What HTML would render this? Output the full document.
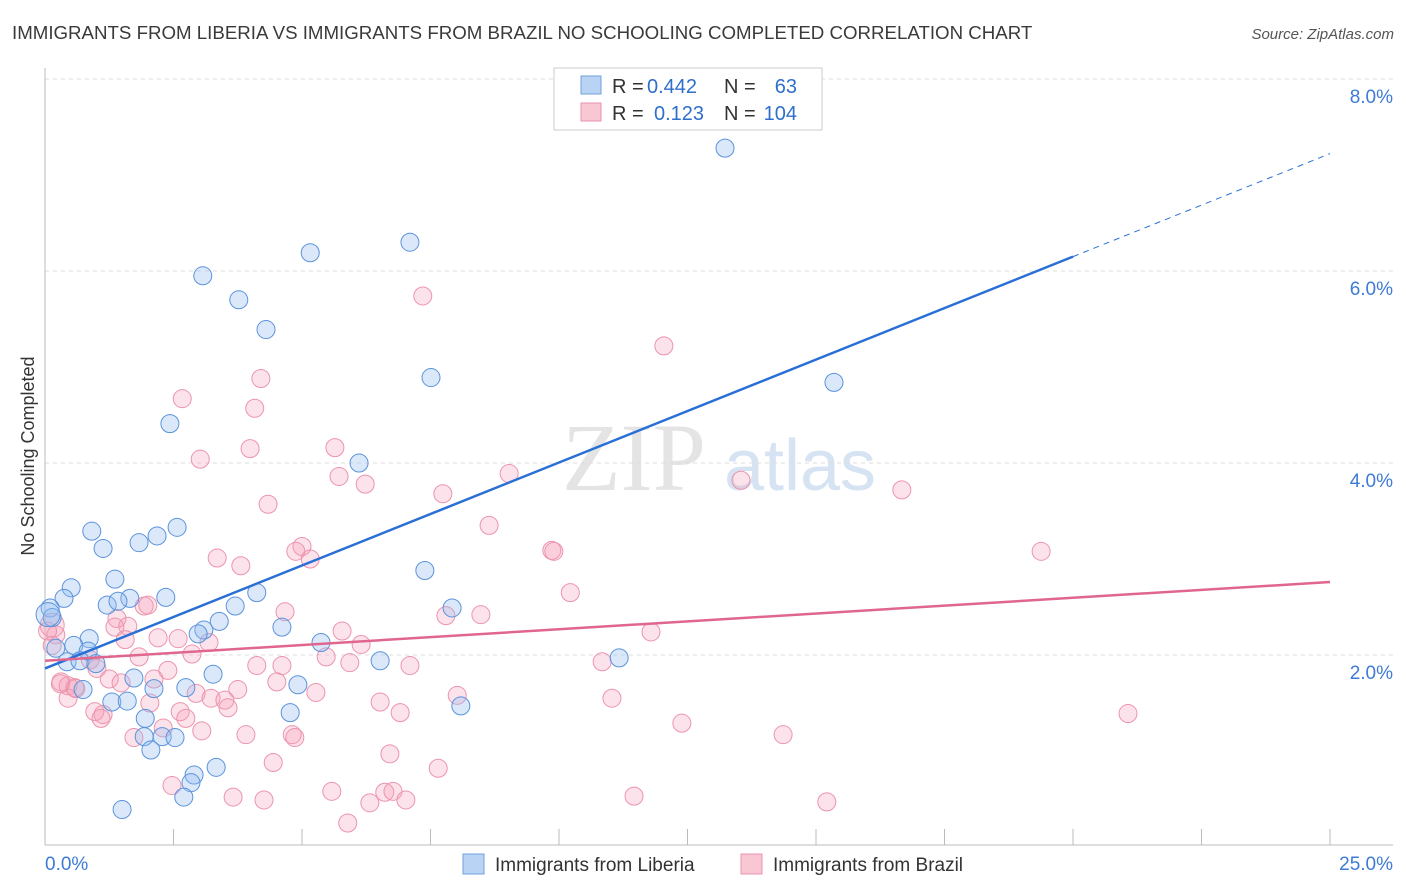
<!DOCTYPE html>
<html><head><meta charset="utf-8"><style>
body{margin:0;background:#fff;font-family:"Liberation Sans",sans-serif;}
</style></head><body>
<svg id="c" width="1406" height="892" style="position:absolute;left:0;top:0">
<text x="12" y="39" font-size="18.7" fill="#3a3a3a">IMMIGRANTS FROM LIBERIA VS IMMIGRANTS FROM BRAZIL NO SCHOOLING COMPLETED CORRELATION CHART</text>
<text x="1394" y="39" font-size="15" font-style="italic" fill="#555" text-anchor="end">Source: ZipAtlas.com</text>
<text x="634" y="490" font-size="96" fill="#e4e4e4" font-family="Liberation Serif" text-anchor="middle">ZIP</text>
<text x="800" y="490" font-size="72" fill="#d6e3f3" text-anchor="middle">atlas</text>
<text transform="translate(34,456) rotate(-90)" font-size="18" fill="#333" text-anchor="middle">No Schooling Completed</text>
<g id="grid"></g><g id="pts"></g><g id="lines"></g>
<g font-size="20">
<rect x="554" y="68" width="268" height="62" fill="#fff" stroke="#ccc"/>
<rect x="581" y="76" width="20" height="18" fill="#b8d3f3" stroke="#6fa0de"/>
<rect x="581" y="103" width="20" height="18" fill="#f9c6d4" stroke="#eb93ab"/>
<text x="612" y="93" fill="#333">R =</text><text x="647" y="93" fill="#2f6fcc">0.442</text>
<text x="724" y="93" fill="#333">N =</text><text x="797" y="93" fill="#2f6fcc" text-anchor="end">63</text>
<text x="612" y="120" fill="#333">R =</text><text x="654" y="120" fill="#2f6fcc">0.123</text>
<text x="724" y="120" fill="#333">N =</text><text x="797" y="120" fill="#2f6fcc" text-anchor="end">104</text>
</g>
<g>
<rect x="463" y="854" width="21" height="20" fill="#b8d3f3" stroke="#6fa0de"/>
<text x="495" y="871" font-size="19" fill="#333">Immigrants from Liberia</text>
<rect x="741" y="854" width="21" height="20" fill="#f9c6d4" stroke="#eb93ab"/>
<text x="773" y="871" font-size="19" fill="#333">Immigrants from Brazil</text>
</g>
</svg>
<script>
const yTicks=[2,4,6,8];
const xTickLabels=["0.0%","25.0%"];
const liberiaX=[13.23,7.10,5.16,3.07,3.77,4.30,7.51,15.35,2.43,6.11,0.91,2.57,2.18,1.83,1.13,0.51,1.36,0.37,7.39,4.12,2.35,1.65,1.21,1.42,3.70,7.92,0.10,0.14,3.39,3.09,2.98,4.61,0.86,5.37,0.56,0.21,0.84,6.52,11.17,0.43,0.68,0.99,1.73,3.27,0.74,2.12,2.74,4.92,1.30,1.60,8.09,4.77,1.95,1.93,2.28,2.53,2.06,3.33,2.90,2.84,2.70,1.50,0.06];
const liberiaY=[7.28,6.30,6.19,5.95,5.70,5.39,4.89,4.84,4.41,4.00,3.29,3.33,3.24,3.17,3.11,2.70,2.79,2.59,2.88,2.65,2.60,2.59,2.52,2.56,2.51,2.49,2.49,2.39,2.35,2.26,2.22,2.29,2.17,2.13,2.10,2.07,2.04,1.94,1.97,1.93,1.94,1.91,1.76,1.80,1.64,1.65,1.66,1.69,1.51,1.52,1.47,1.40,1.34,1.15,1.15,1.14,1.01,0.83,0.75,0.67,0.52,0.39,2.42];
const brazilX=[7.35,12.04,4.20,2.67,4.08,3.99,5.64,3.02,9.03,5.72,6.23,13.54,16.67,7.74,4.34,8.64,5.00,9.86,9.90,19.38,4.88,5.16,3.35,3.81,10.22,1.93,2.00,4.67,8.48,7.80,1.40,1.61,1.36,5.78,11.79,0.14,0.21,2.20,2.59,1.56,6.15,3.19,0.14,2.86,5.47,1.83,0.88,5.93,10.84,7.10,4.12,4.61,1.01,2.39,2.12,1.25,4.51,1.48,0.31,0.45,0.58,3.75,5.27,2.94,3.23,3.50,11.03,8.02,0.45,6.52,2.04,3.56,2.63,0.97,1.13,6.91,21.07,2.74,1.09,12.39,2.30,3.05,4.81,4.86,1.73,3.91,14.36,6.71,4.44,7.65,2.47,5.58,6.61,6.77,11.46,3.66,4.26,7.02,6.32,15.21,5.89,0.05,0.3,0.6];
const brazilY=[5.74,5.22,4.88,4.67,4.57,4.15,4.16,4.04,3.89,3.86,3.78,3.82,3.72,3.68,3.57,3.35,3.13,3.09,3.08,3.08,3.08,3.00,3.01,2.93,2.65,2.51,2.52,2.45,2.42,2.41,2.38,2.30,2.29,2.25,2.24,2.31,2.21,2.18,2.17,2.16,2.11,2.13,2.10,2.01,1.98,1.98,1.95,1.92,1.93,1.89,1.89,1.89,1.86,1.84,1.75,1.75,1.72,1.71,1.72,1.68,1.66,1.64,1.61,1.60,1.55,1.53,1.55,1.58,1.55,1.51,1.50,1.45,1.41,1.41,1.38,1.40,1.39,1.34,1.34,1.29,1.24,1.21,1.17,1.14,1.14,1.17,1.17,0.97,0.88,0.82,0.64,0.58,0.57,0.58,0.53,0.52,0.49,0.49,0.46,0.47,0.25,2.25,1.7,1.65];
const liberiaTrend=[1.86,0.2145];
const brazilTrend=[1.94,0.0328];
const X=v=>45+v/25*1285, Y=v=>847-v*96;
const NS="http://www.w3.org/2000/svg";
function mk(t,a,p){const e=document.createElementNS(NS,t);for(const k in a)e.setAttribute(k,a[k]);p.appendChild(e);return e;}
const grid=document.getElementById('grid');
yTicks.forEach(t=>{
 const l=mk('line',{x1:45,x2:1393,y1:Y(t),y2:Y(t),stroke:'#ddd','stroke-dasharray':'4,4'},grid);
 
 
 const tx=mk('text',{x:1393,y:Y(t)+24,'font-size':19,fill:'#3d7bd6','text-anchor':'end'},grid);tx.textContent=t.toFixed(1)+'%';
 
 
});
mk('line',{x1:45,x2:45,y1:68,y2:845,stroke:'#bbb'},grid);
mk('line',{x1:45,x2:1393,y1:845,y2:845,stroke:'#bbb'},grid);
for(let i=1;i<=10;i++){mk('line',{x1:X(i*2.5),x2:X(i*2.5),y1:829,y2:845,stroke:'#bbb'},grid);}
xTickLabels.forEach((s,i)=>{const tx=mk('text',{x:i?1393:45,y:870,'font-size':19,fill:'#3d7bd6','text-anchor':i?'end':'start'},grid);tx.textContent=s;
 
 });
const pts=document.getElementById('pts');
brazilX.forEach((x,i)=>{const c=mk('circle',{cx:X(x),cy:Y(brazilY[i]),r:i==35?12:9,fill:'rgba(245,160,185,0.3)',stroke:'#ec94ad','stroke-width':1},pts);
 
 });
liberiaX.forEach((x,i)=>{const c=mk('circle',{cx:X(x),cy:Y(liberiaY[i]),r:i==62?12:9,fill:'rgba(150,190,240,0.35)',stroke:'#5b93dc','stroke-width':1},pts);
 
 });
const lines=document.getElementById('lines');
let l=mk('line',{x1:X(0),y1:Y(liberiaTrend[0]),x2:X(20),y2:Y(liberiaTrend[0]+20*liberiaTrend[1]),stroke:'#2a6fd6','stroke-width':2.5},lines);


l=mk('line',{x1:X(20),y1:Y(liberiaTrend[0]+20*liberiaTrend[1]),x2:X(25),y2:Y(liberiaTrend[0]+25*liberiaTrend[1]),stroke:'#2a6fd6','stroke-width':1,'stroke-dasharray':'6,5'},lines);


l=mk('line',{x1:X(0),y1:Y(brazilTrend[0]),x2:X(25),y2:Y(brazilTrend[0]+25*brazilTrend[1]),stroke:'#e0668e','stroke-width':2.5},lines);


</script>
</body></html>
